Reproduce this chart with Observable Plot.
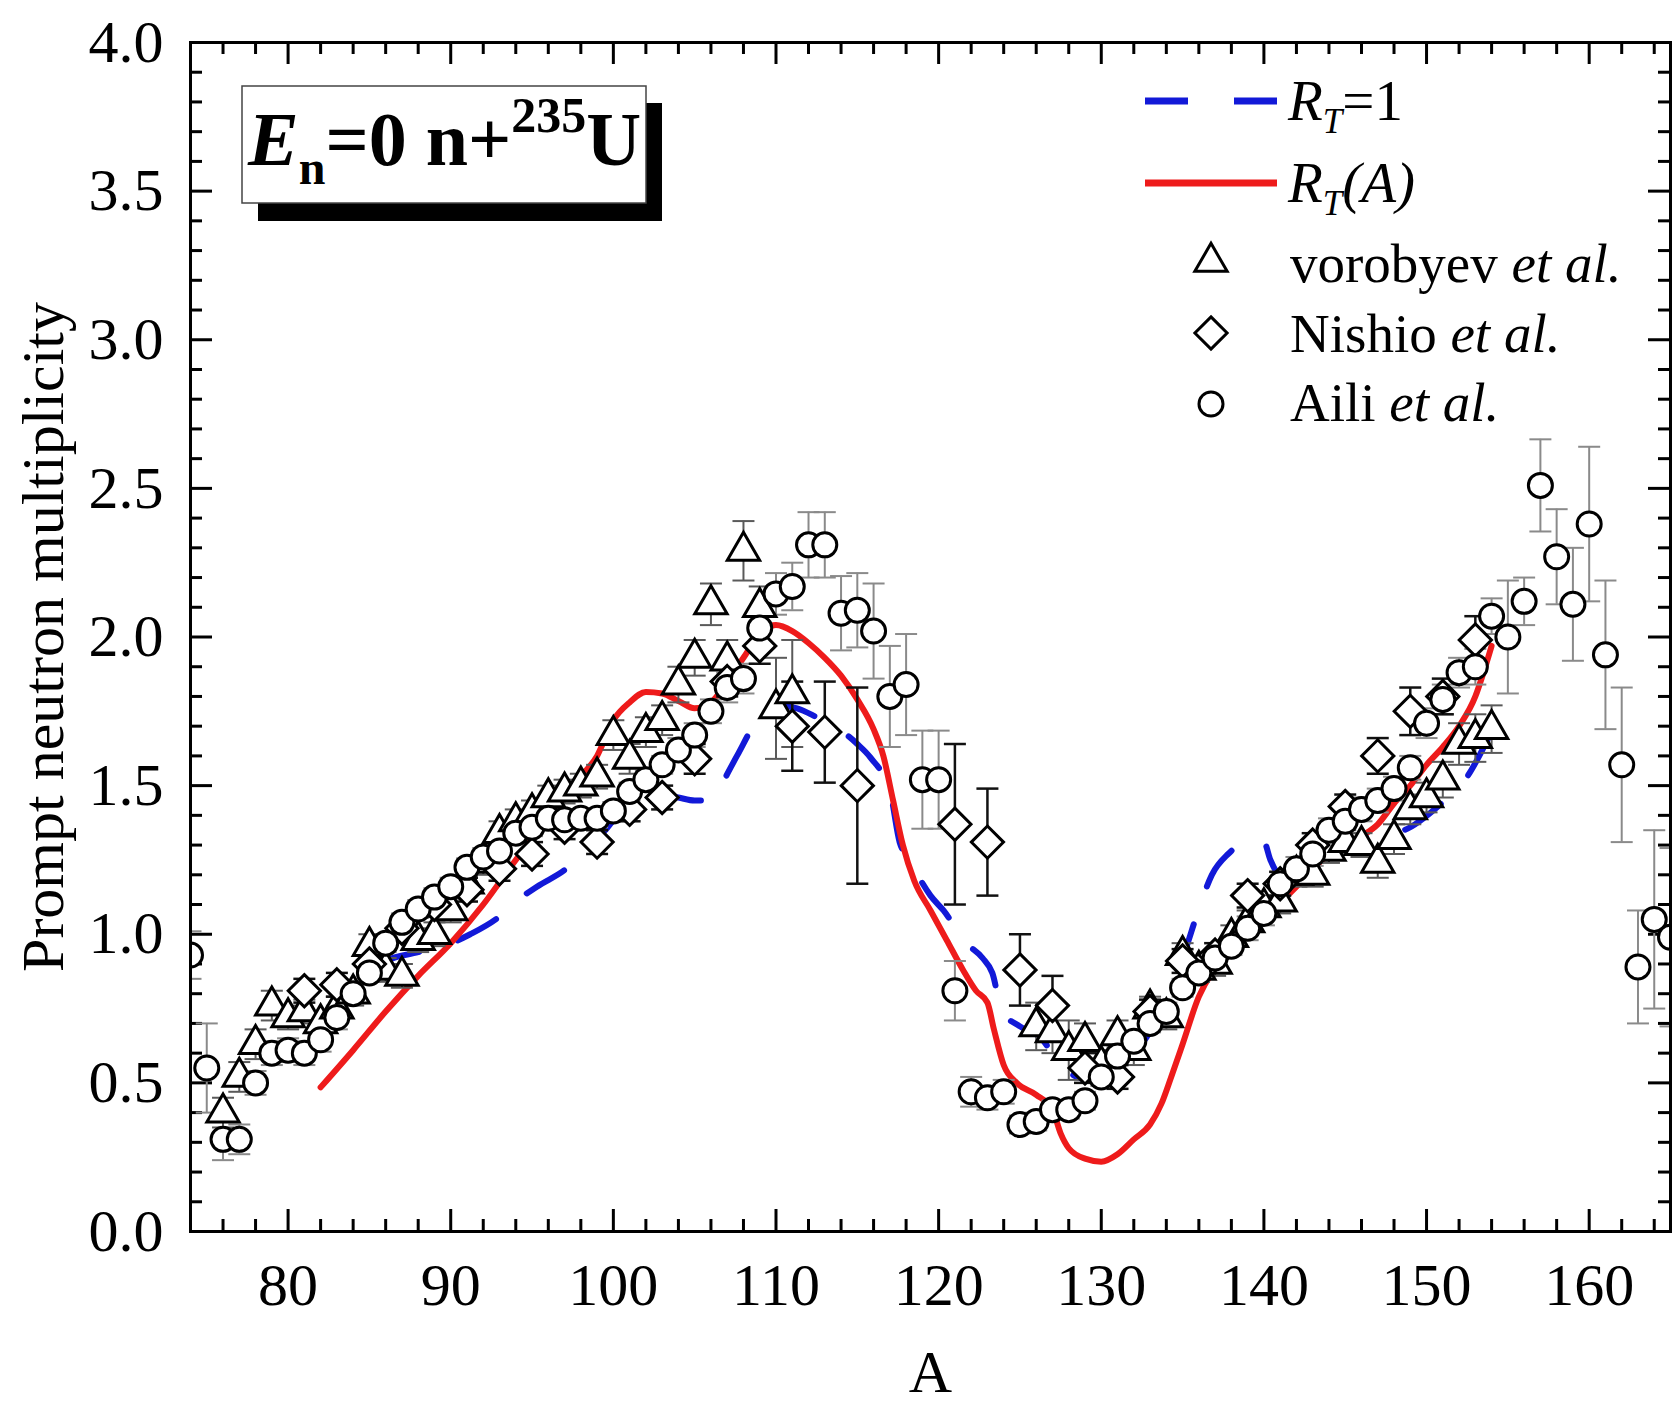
<!DOCTYPE html>
<html>
<head>
<meta charset="utf-8">
<script src="https://cdn.jsdelivr.net/npm/d3@7"></script>
<script src="https://cdn.jsdelivr.net/npm/@observablehq/plot@0.6"></script>
<style>
  html, body { margin: 0; padding: 0; background: #fff; }
  svg { display: block; }
</style>
</head>
<body>
<div id="chart"></div>
<script>
// ---------------- data ----------------
const xTicks = [80, 90, 100, 110, 120, 130, 140, 150, 160];
const yTicks = [0.0, 0.5, 1.0, 1.5, 2.0, 2.5, 3.0, 3.5, 4.0];

// vorobyev et al. (triangles)
const voroA = [76,77,78,79,80,81,82,83,84,85,86,87,88,89,90,91,92,93,94,95,96,97,98,99,100,101,102,103,104,105,106,107,108,109,110,111,
               126,127,128,129,130,131,132,133,134,135,136,137,138,139,140,141,142,143,144,145,146,147,148,149,150,151,152,153,154];
const voroV = [0.40,0.52,0.63,0.76,0.72,0.74,0.70,0.75,0.80,0.96,0.88,0.86,0.98,1.00,1.08,1.17,1.24,1.34,1.38,1.41,1.46,1.48,1.50,1.53,1.67,1.59,1.68,1.72,1.84,1.93,2.11,1.92,2.29,2.10,1.76,1.81,
               0.69,0.67,0.61,0.64,0.56,0.66,0.61,0.75,0.72,0.93,0.88,0.90,0.99,1.04,1.09,1.11,1.20,1.20,1.28,1.31,1.30,1.24,1.32,1.42,1.46,1.52,1.64,1.66,1.69];
const voroErr = [0.05,0.05,0.05,0.05,0.04,0.04,0.04,0.04,0.04,0.04,0.04,0.04,0.04,0.04,0.04,0.04,0.04,0.04,0.04,0.04,0.04,0.04,0.04,0.04,0.05,0.05,0.05,0.05,0.06,0.06,0.07,0.07,0.10,0.07,0.17,0.18,
                 0.08,0.07,0.10,0.06,0.05,0.05,0.05,0.04,0.04,0.04,0.04,0.04,0.04,0.04,0.04,0.04,0.04,0.04,0.04,0.04,0.04,0.05,0.05,0.05,0.05,0.06,0.07,0.08,0.08];

// Nishio et al. (diamonds)
const nishA = [81,83,85,87,89,91,93,95,97,99,101,103,105,107,109,111,113,115,121,123,125,127,129,131,133,135,137,139,141,143,145,147,149,151,153];
const nishV = [0.81,0.83,0.90,1.02,1.10,1.15,1.22,1.27,1.36,1.31,1.42,1.46,1.59,1.85,1.97,1.70,1.68,1.50,1.37,1.31,0.88,0.76,0.55,0.52,0.74,0.91,0.93,1.13,1.17,1.30,1.43,1.60,1.75,1.80,1.99];
const nishErr = [0.04,0.04,0.04,0.04,0.04,0.04,0.04,0.04,0.04,0.04,0.04,0.04,0.05,0.05,0.06,0.15,0.17,0.33,0.27,0.18,0.12,0.10,0.05,0.04,0.04,0.04,0.04,0.04,0.04,0.04,0.04,0.06,0.08,0.06,0.08];

// Aili et al. (circles)
const ailiA = [74,75,76,77,78,79,80,81,82,83,84,85,86,87,88,89,90,91,92,93,94,95,96,97,98,99,100,101,102,103,104,105,106,107,108,109,110,111,112,113,114,115,116,117,118,119,120,
               121,122,123,124,125,126,127,128,129,130,131,132,133,134,135,136,137,138,139,140,141,142,143,144,145,146,147,148,149,150,151,152,153,154,155,156,157,158,159,160,161,162,163,164,165];
const ailiV = [0.93,0.55,0.31,0.31,0.50,0.60,0.61,0.60,0.645,0.72,0.80,0.87,0.97,1.04,1.085,1.125,1.16,1.225,1.26,1.28,1.34,1.36,1.39,1.385,1.39,1.39,1.415,1.48,1.52,1.57,1.62,1.67,1.75,1.83,1.86,2.03,2.145,2.17,2.31,2.31,2.08,2.09,2.02,1.80,1.84,1.52,1.52,
               0.81,0.47,0.45,0.47,0.36,0.37,0.41,0.41,0.44,0.52,0.59,0.64,0.70,0.74,0.82,0.87,0.92,0.96,1.02,1.07,1.17,1.22,1.27,1.35,1.38,1.42,1.45,1.49,1.56,1.71,1.79,1.88,1.90,2.07,2.00,2.12,2.51,2.27,2.11,2.38,1.94,1.57,0.89,1.05,0.99];
const ailiErr = [0.08,0.15,0.07,0.05,0.04,0.04,0.04,0.04,0.04,0.04,0.03,0.03,0.03,0.03,0.03,0.03,0.03,0.03,0.03,0.03,0.03,0.03,0.03,0.03,0.03,0.03,0.03,0.03,0.03,0.03,0.04,0.04,0.04,0.05,0.05,0.06,0.07,0.08,0.11,0.11,0.125,0.125,0.16,0.17,0.17,0.165,0.165,
                 0.10,0.05,0.04,0.04,0.03,0.03,0.03,0.03,0.03,0.03,0.03,0.03,0.03,0.03,0.03,0.03,0.03,0.03,0.04,0.04,0.04,0.04,0.04,0.04,0.04,0.04,0.04,0.04,0.04,0.05,0.05,0.05,0.06,0.06,0.19,0.08,0.155,0.16,0.19,0.26,0.25,0.26,0.19,0.30,0.30];

// R_T(A) model curve (red solid)
const redA = [82,84,86,88,90,92,94,96,98,99,100,101,102,103,104,105,106,107,108,109,110,111,112,113,114,115,116,116.6,117.2,117.8,118.5,119.5,120.5,121.5,122.3,123,123.4,124,124.8,126,127,127.5,128,129,130,131,132,133,133.7,134.3,135,136,136.8,138,140,142,144,146,147,148,149,150,151,152,153,153.5,154];
const redV = [0.485,0.61,0.74,0.86,0.97,1.10,1.25,1.39,1.53,1.60,1.72,1.78,1.815,1.81,1.785,1.76,1.78,1.85,1.93,2.01,2.04,2.02,1.98,1.93,1.87,1.79,1.69,1.60,1.45,1.30,1.18,1.08,0.98,0.88,0.81,0.77,0.68,0.56,0.50,0.46,0.41,0.33,0.28,0.245,0.235,0.26,0.31,0.36,0.43,0.52,0.63,0.79,0.87,0.94,1.05,1.16,1.27,1.33,1.37,1.44,1.50,1.57,1.63,1.70,1.80,1.88,1.97];

// R_T = 1 model curve (blue dashed)
const blueA = [82,83,83.6,84.5,86,88,89,90,91.2,93,94,95.3,97.2,98.5,99.5,100.4,101.1,102,103,104,105,106,106.6,107.6,108.85,110,111.3,112.5,114,115,115.8,117.05,117.6,118.1,118.7,119.5,120.3,121.7,122.7,123.3,123.9,125,126.3,127,127.7,128.5,129.3,130,131.3,132.6,133.3,134.1,135.1,136,136.8,137.8,138.5,139.4,140,140.4,141,142,143,143.9,146.1,148.6,150.7,152.5,153.8];
const blueV = [0.69,0.76,0.80,0.85,0.91,0.94,0.955,0.97,1.00,1.06,1.11,1.16,1.225,1.30,1.35,1.41,1.44,1.47,1.47,1.46,1.45,1.45,1.50,1.60,1.72,1.77,1.76,1.73,1.685,1.64,1.595,1.47,1.31,1.26,1.20,1.13,1.08,0.97,0.92,0.87,0.74,0.69,0.65,0.60,0.55,0.52,0.51,0.53,0.585,0.64,0.70,0.79,0.935,1.085,1.20,1.27,1.30,1.31,1.31,1.25,1.20,1.24,1.28,1.30,1.325,1.35,1.43,1.53,1.66];

// ---------------- tables ----------------
const voro = voroA.map((A, i) => ({A, v: voroV[i], e: voroErr[i]}));
const nish = nishA.map((A, i) => ({A, v: nishV[i], e: nishErr[i]}));
const aili = ailiA.map((A, i) => ({A, v: ailiV[i], e: ailiErr[i]}));
const red = redA.map((A, i) => ({A, v: redV[i]}));
const blue = blueA.map((A, i) => ({A, v: blueV[i]}));

const xMinor = d3.range(76, 165, 2).filter(d => d % 10 !== 0);
const yMinor = d3.range(1, 40).map(d => d / 10).filter(d => Math.round(d * 10) % 5 !== 0);

// ---------------- layout ----------------
const W = 1673, H = 1411, mL = 190, mR = 3, mT = 42, mB = 180;
const fw = W - mL - mR, fh = H - mT - mB;
const majorLen = 22, minorLen = 12;
const BLUE = "#1219d8", RED = "#ee1b1b";
const serif = "'Liberation Serif', 'Times New Roman', serif";

const cap = {draw(ctx) { ctx.moveTo(-11, 0); ctx.lineTo(11, 0); }};

function errorMarks(data, color, width) {
  return [
    Plot.ruleX(data, {x: "A", y1: d => d.v - d.e, y2: d => d.v + d.e, stroke: color, strokeWidth: width, clip: true}),
    Plot.dot(data, {x: "A", y: d => d.v + d.e, symbol: cap, r: 5, fill: "none", stroke: color, strokeWidth: width, clip: true}),
    Plot.dot(data, {x: "A", y: d => d.v - d.e, symbol: cap, r: 5, fill: "none", stroke: color, strokeWidth: width, clip: true})
  ];
}

const plot = Plot.plot({
  width: W, height: H,
  marginLeft: mL, marginRight: mR, marginTop: mT, marginBottom: mB,
  x: {domain: [74, 165], axis: null},
  y: {domain: [0, 4], axis: null},
  style: {fontFamily: serif, fontSize: "60px", background: "white", color: "black", overflow: "visible"},
  marks: [
    // inward ticks on all four sides
    Plot.tickX(xTicks, {x: d => d, insetTop: fh - majorLen, strokeWidth: 3}),
    Plot.tickX(xMinor, {x: d => d, insetTop: fh - minorLen, strokeWidth: 3}),
    Plot.tickX(xTicks, {x: d => d, insetBottom: fh - majorLen, strokeWidth: 3}),
    Plot.tickX(xMinor, {x: d => d, insetBottom: fh - minorLen, strokeWidth: 3}),
    Plot.tickY(yTicks, {y: d => d, insetRight: fw - majorLen, strokeWidth: 3}),
    Plot.tickY(yMinor, {y: d => d, insetRight: fw - minorLen, strokeWidth: 3}),
    Plot.tickY(yTicks, {y: d => d, insetLeft: fw - majorLen, strokeWidth: 3}),
    Plot.tickY(yMinor, {y: d => d, insetLeft: fw - minorLen, strokeWidth: 3}),

    // model curves
    Plot.line(blue, {x: "A", y: "v", stroke: BLUE, strokeWidth: 6, strokeDasharray: "44,40", curve: "monotone-x", clip: true}),
    Plot.line(red, {x: "A", y: "v", stroke: RED, strokeWidth: 6, curve: "monotone-x", clip: true}),

    // error bars
    ...errorMarks(aili, "#8a8a8a", 2),
    ...errorMarks(voro, "#5a5a5a", 2),
    ...errorMarks(nish, "#111", 2.5),

    // data points
    Plot.dot(voro, {x: "A", y: "v", symbol: "triangle", r: 12, fill: "white", stroke: "black", strokeWidth: 3, clip: true}),
    Plot.dot(nish, {x: "A", y: "v", symbol: "diamond2", r: 14.5, fill: "white", stroke: "black", strokeWidth: 3, clip: true}),
    Plot.dot(aili, {x: "A", y: "v", symbol: "circle", r: 12, fill: "white", stroke: "black", strokeWidth: 3, clip: true}),

    Plot.frame({stroke: "black", strokeWidth: 3}),

    // tick labels
    Plot.text(xTicks, {x: d => d, frameAnchor: "bottom", dy: 73, text: d => String(d), fontSize: 60}),
    Plot.text(yTicks, {y: d => d, frameAnchor: "left", dx: -27, textAnchor: "end", text: d => d.toFixed(1), fontSize: 60}),

    // axis titles
    Plot.text(["A"], {frameAnchor: "bottom", dy: 160, text: d => d, fontSize: 60}),
    Plot.text(["Prompt neutron multiplicity"], {frameAnchor: "left", dx: -147, rotate: -90, textAnchor: "middle", text: d => d, fontSize: 60})
  ]
});

document.getElementById("chart").appendChild(plot);

// ---------------- annotation box & legend ----------------
const svg = d3.select(plot);
const g = svg.append("g").attr("font-family", serif).attr("fill", "black").attr("text-anchor", "start");

// shadowed title box
g.append("rect").attr("x", 258).attr("y", 103).attr("width", 404).attr("height", 118).attr("fill", "black");
g.append("rect").attr("x", 242).attr("y", 86).attr("width", 404).attr("height", 117)
  .attr("fill", "white").attr("stroke", "#444").attr("stroke-width", 1.5);
const t = g.append("text").attr("x", 248).attr("y", 165).attr("font-weight", "bold").attr("font-size", 76);
t.append("tspan").attr("font-style", "italic").text("E");
t.append("tspan").attr("font-size", 48).attr("dy", 19).text("n");
t.append("tspan").attr("dy", -19).text("=0 n+");
t.append("tspan").attr("font-size", 50).attr("dy", -33).text("235");
t.append("tspan").attr("dy", 33).text("U");

// legend: lines
g.append("line").attr("x1", 1145).attr("x2", 1277).attr("y1", 101).attr("y2", 101)
  .attr("stroke", BLUE).attr("stroke-width", 7).attr("stroke-dasharray", "43,46");
g.append("line").attr("x1", 1145).attr("x2", 1277).attr("y1", 183).attr("y2", 183)
  .attr("stroke", RED).attr("stroke-width", 7);

function rt(y, rest, restItalic) {
  const tx = g.append("text").attr("x", 1288).attr("y", y).attr("font-size", 57);
  tx.append("tspan").attr("font-style", "italic").text("R");
  tx.append("tspan").attr("font-style", "italic").attr("font-size", 35).attr("dy", 13).text("T");
  tx.append("tspan").attr("dy", -13).attr("font-style", restItalic ? "italic" : "normal").text(rest);
}
rt(120, "=1", false);
rt(202, "(A)", true);

// legend: symbols
const symRows = [
  {sym: d3.symbolTriangle, r: 12, y: 262, name: "vorobyev ", ty: 282},
  {sym: d3.symbolDiamond2, r: 14.5, y: 333, name: "Nishio ", ty: 352},
  {sym: d3.symbolCircle, r: 12, y: 404, name: "Aili ", ty: 421}
];
for (const row of symRows) {
  g.append("path").attr("transform", `translate(1211,${row.y})`)
    .attr("d", d3.symbol(row.sym, row.r * row.r * Math.PI)())
    .attr("fill", "white").attr("stroke", "black").attr("stroke-width", 3);
  const tx = g.append("text").attr("x", 1290).attr("y", row.ty).attr("font-size", 55);
  tx.append("tspan").text(row.name);
  tx.append("tspan").attr("font-style", "italic").text("et al.");
}
</script>
</body>
</html>
